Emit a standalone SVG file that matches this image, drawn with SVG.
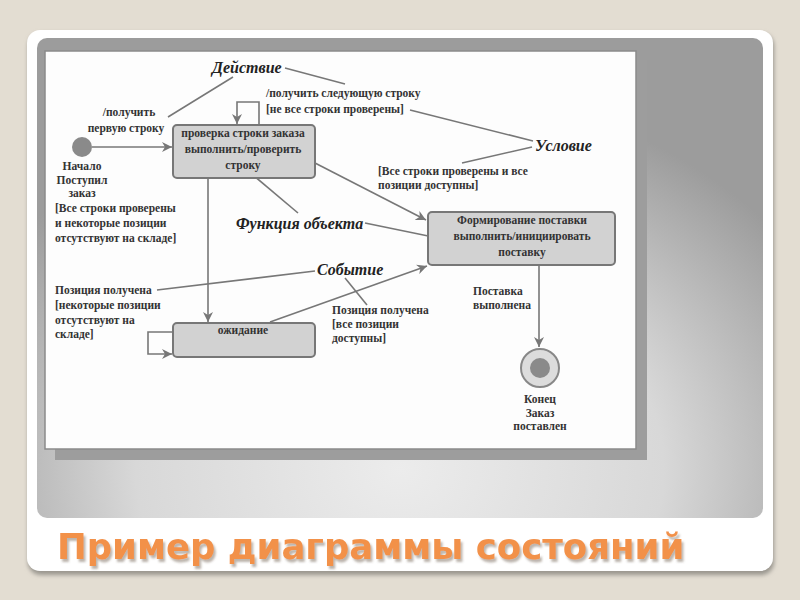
<svg xmlns="http://www.w3.org/2000/svg" width="800" height="600" viewBox="0 0 800 600">
<defs>
<radialGradient id="pg" cx="400" cy="470" r="480" gradientUnits="userSpaceOnUse" gradientTransform="translate(400 470) scale(1 0.8) translate(-400 -470)">
<stop offset="0" stop-color="#ececec"/>
<stop offset="0.55" stop-color="#d8d8d8"/>
<stop offset="1" stop-color="#9c9c9c"/>
</radialGradient>
<marker id="ah" viewBox="0 0 10 10" refX="10" refY="5" markerWidth="10" markerHeight="10" markerUnits="userSpaceOnUse" orient="auto">
<path d="M0,0 L10,5 L0,10 L3,5 z" fill="#777"/>
</marker>
<filter id="sh" x="-5%" y="-5%" width="110%" height="115%">
<feGaussianBlur stdDeviation="2"/>
</filter>
<filter id="tsh" x="-5%" y="-20%" width="110%" height="150%">
<feDropShadow dx="2" dy="3" stdDeviation="1.2" flood-color="#6b5a4a" flood-opacity="0.45"/>
</filter>
</defs>
<style>
.t{font-family:"Liberation Serif","DejaVu Serif",serif;font-size:11.5px;font-weight:bold;fill:#333;}
.c{text-anchor:middle;}
.it{font-family:"Liberation Serif","DejaVu Serif",serif;font-size:16px;font-style:italic;font-weight:bold;fill:#222;}
.ln{stroke:#777;stroke-width:1.6;fill:none;}
.st{fill:#d2d2d2;stroke:#777;stroke-width:2;}
</style>
<rect x="0" y="0" width="800" height="600" fill="#e3ddd2"/>
<rect x="28" y="33" width="746" height="542" rx="13" fill="#9a968f" filter="url(#sh)"/>
<rect x="27" y="30" width="746" height="541" rx="13" fill="#ffffff"/>
<rect x="37" y="38" width="726" height="480" rx="10" fill="url(#pg)"/>
<rect x="55" y="60" width="592" height="400" fill="#9d9d9d"/>
<rect x="45" y="51" width="591" height="398" fill="#fdfdfd" stroke="#8a8a8a" stroke-width="1.5"/>
<text x="57" y="559" font-family="'DejaVu Sans',Verdana,sans-serif" font-weight="bold" font-size="35.5" fill="#f2914a" filter="url(#tsh)">Пример диаграммы состояний</text>

<g id="connectors">
<line class="ln" x1="92" y1="147" x2="172" y2="147" marker-end="url(#ah)"/>
<path class="ln" d="M259,125 V102 H237 V124" marker-end="url(#ah)"/>
<line class="ln" x1="315" y1="163" x2="426" y2="220" marker-end="url(#ah)"/>
<line class="ln" x1="208" y1="178" x2="208" y2="322" marker-end="url(#ah)"/>
<path class="ln" d="M173,332 H148 V354 H172" marker-end="url(#ah)"/>
<line class="ln" x1="270" y1="322" x2="427" y2="266" marker-end="url(#ah)"/>
<line class="ln" x1="539" y1="265" x2="539" y2="347" marker-end="url(#ah)"/>
<line class="ln" x1="233" y1="77" x2="168" y2="117"/>
<line class="ln" x1="285" y1="68" x2="345" y2="84"/>
<line class="ln" x1="410" y1="110" x2="533" y2="141"/>
<line class="ln" x1="532" y1="147" x2="462" y2="163"/>
<line class="ln" x1="253" y1="175" x2="298" y2="213"/>
<line class="ln" x1="365" y1="223" x2="438" y2="238"/>
<line class="ln" x1="157" y1="290" x2="315" y2="271"/>
<line class="ln" x1="345" y1="278" x2="367" y2="305"/>
</g>

<g id="start">
<circle cx="82" cy="147" r="10" fill="#8a8a8a"/>
<text class="t c" x="82" y="170">Начало</text>
<text class="t c" x="82" y="183.5">Поступил</text>
<text class="t c" x="82" y="197">заказ</text>
</g>

<g id="check">
<rect class="st" x="173" y="125" width="142" height="53" rx="4"/>
<text class="t c" x="243" y="137">проверка строки заказа</text>
<text class="t c" x="243" y="153">выполнить/проверить</text>
<text class="t c" x="243" y="169">строку</text>
</g>

<g id="deliver">
<rect class="st" x="428" y="212" width="187" height="53" rx="4"/>
<text class="t c" x="522" y="224">Формирование поставки</text>
<text class="t c" x="522" y="240">выполнить/инициировать</text>
<text class="t c" x="522" y="256">поставку</text>
</g>

<g id="wait">
<rect class="st" x="173" y="323" width="142" height="34" rx="4"/>
<text class="t c" x="243" y="334">ожидание</text>
</g>

<g id="end">
<circle cx="540" cy="368" r="19" fill="#dcdcdc" stroke="#888" stroke-width="2"/>
<circle cx="540" cy="368" r="10" fill="#8a8a8a"/>
<text class="t c" x="540" y="403">Конец</text>
<text class="t c" x="540" y="416.5">Заказ</text>
<text class="t c" x="540" y="430">поставлен</text>
</g>

<g id="labels">
<text class="t c" x="129" y="116">/получить</text>
<text class="t c" x="126" y="132">первую строку</text>
<text class="t" x="266" y="97">/получить следующую строку</text>
<text class="t" x="266" y="113">[не все строки проверены]</text>
<text class="t" x="378" y="175">[Все строки проверены и все</text>
<text class="t" x="378" y="189">позиции доступны]</text>
<text class="t" x="55" y="212">[Все строки проверены</text>
<text class="t" x="55" y="227">и некоторые позиции</text>
<text class="t" x="55" y="242">отсутствуют на складе]</text>
<text class="t" x="55" y="294">Позиция получена</text>
<text class="t" x="55" y="309">[некоторые позиции</text>
<text class="t" x="55" y="324">отсутствуют на</text>
<text class="t" x="55" y="338">складе]</text>
<text class="t" x="332" y="314">Позиция получена</text>
<text class="t" x="332" y="328">[все позиции</text>
<text class="t" x="332" y="342">доступны]</text>
<text class="t" x="473" y="295">Поставка</text>
<text class="t" x="473" y="309">выполнена</text>
<text class="it" x="212" y="73">Действие</text>
<text class="it" x="535" y="151">Условие</text>
<text class="it" x="236" y="229">Функция объекта</text>
<text class="it" x="317" y="275">Событие</text>
</g>
</svg>
